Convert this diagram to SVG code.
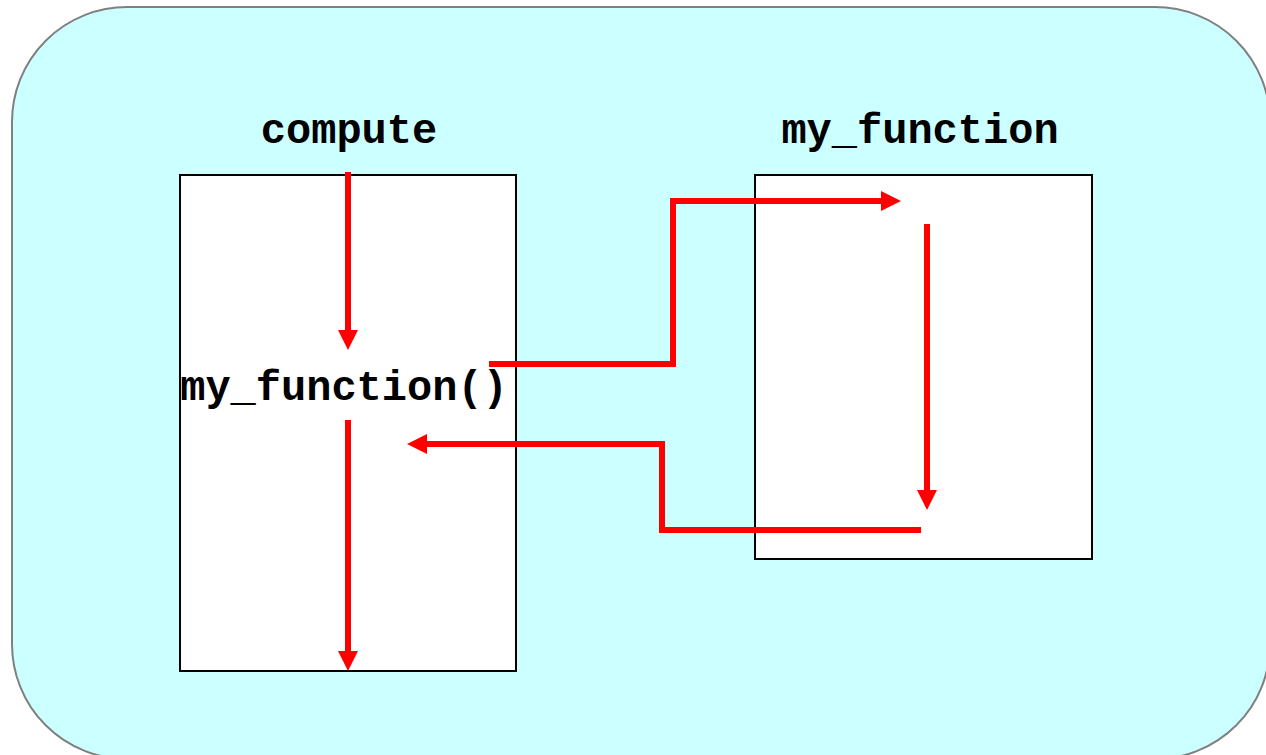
<svg xmlns="http://www.w3.org/2000/svg" width="1266" height="755" viewBox="0 0 1266 755">
<style>
.bg{fill:#ccffff;stroke:#808080;stroke-width:2}
.box{fill:#ffffff;stroke:#000000;stroke-width:2}
.lbl{font-family:"Liberation Mono","Courier New",monospace;font-weight:bold;font-size:42px;fill:#000000;text-anchor:middle}
.flow{fill:none;stroke:#ff0000;stroke-width:6;stroke-linejoin:miter}
</style>
<defs>
<marker id="ah" markerUnits="userSpaceOnUse" markerWidth="20" markerHeight="20" refX="0" refY="10" orient="auto">
<path d="M0,0 L20,10 L0,20 z" fill="#ff0000"/>
</marker>
</defs>
<rect class="bg" x="12" y="7" width="1258" height="752" rx="115" ry="115"/>
<g id="compute">
<rect class="box" x="180" y="175" width="336" height="496"/>
<text class="lbl" x="349" y="143">compute</text>
<text class="lbl" x="344" y="400">my_function()</text>
</g>
<g id="my_function">
<rect class="box" x="755" y="175" width="337" height="384"/>
<text class="lbl" x="920" y="143">my_function</text>
</g>
<g id="connectors">
<path class="flow" d="M348,172 L348,330" marker-end="url(#ah)"/>
<path class="flow" d="M348,420 L348,651" marker-end="url(#ah)"/>
<path class="flow" d="M489,364 L673,364 L673,201 L881,201" marker-end="url(#ah)"/>
<path class="flow" d="M927,224 L927,490" marker-end="url(#ah)"/>
<path class="flow" d="M921,530 L662,530 L662,444 L427,444" marker-end="url(#ah)"/>
</g>
</svg>
